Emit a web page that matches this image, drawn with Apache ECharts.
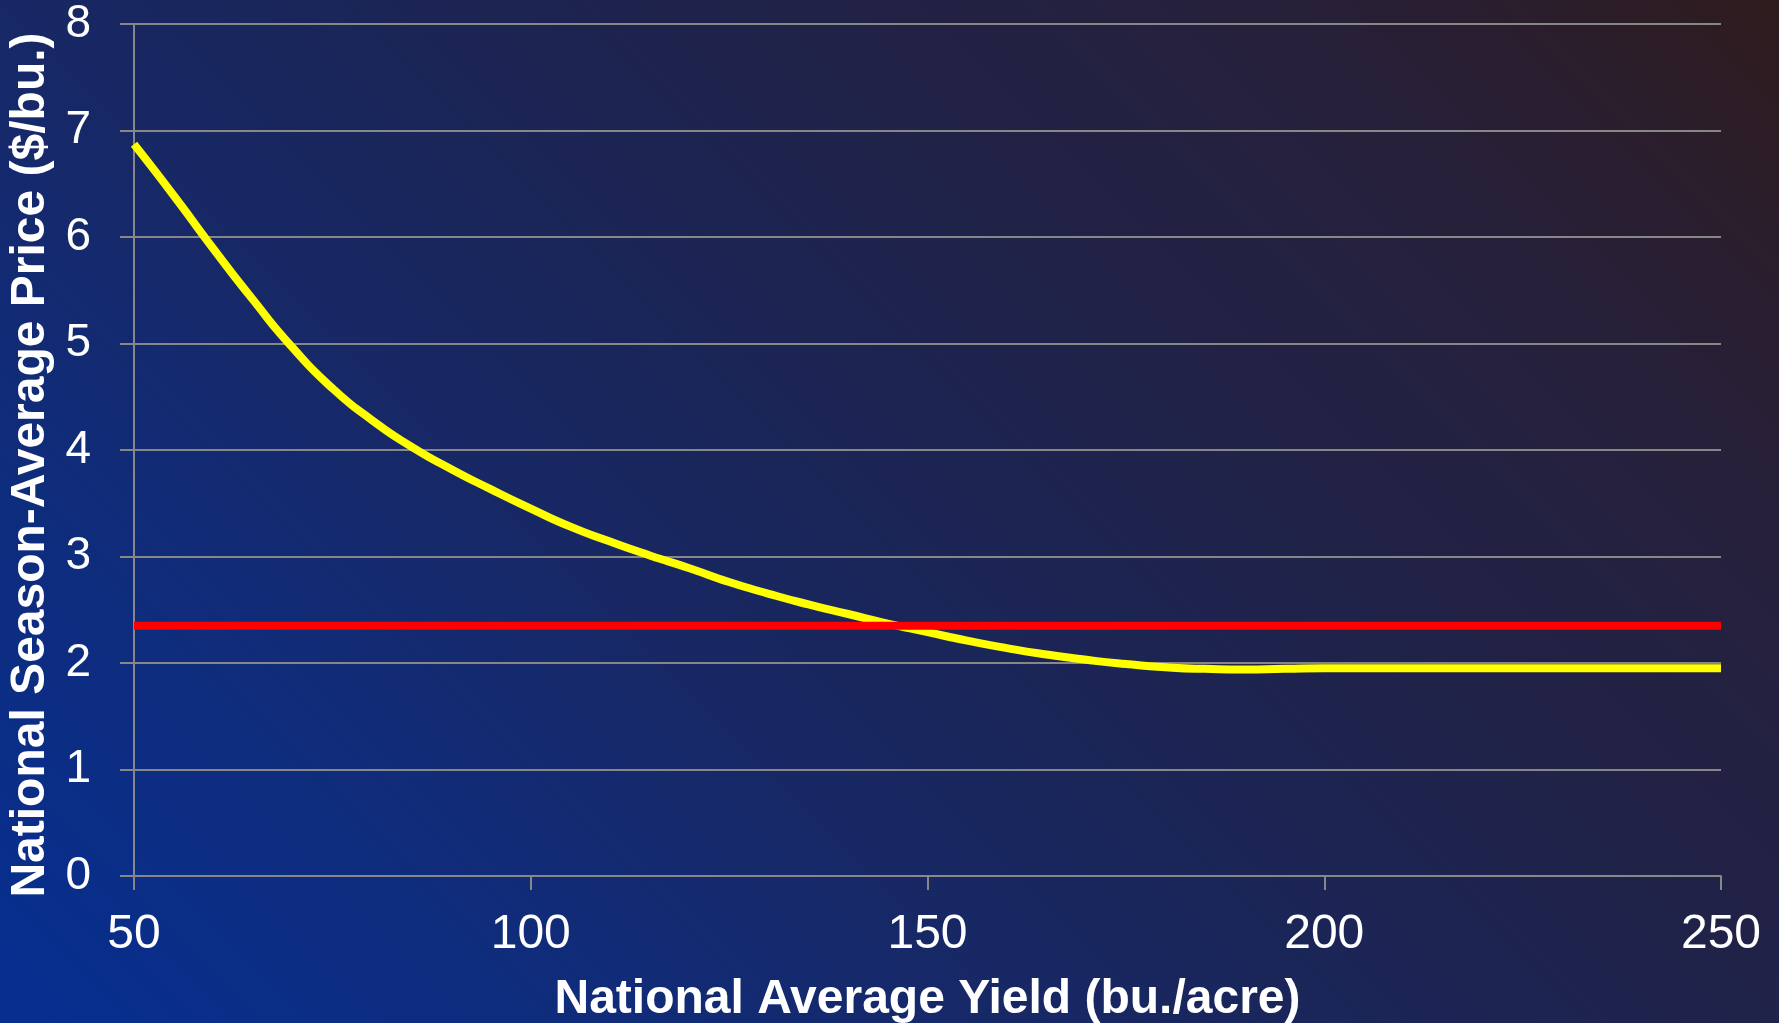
<!DOCTYPE html>
<html>
<head>
<meta charset="utf-8">
<title>National Season-Average Price vs. Yield</title>
<script src="https://cdn.jsdelivr.net/npm/echarts@6/dist/echarts.min.js"></script>
<style>
  html, body { margin: 0; padding: 0; width: 100%; height: 100%; overflow: hidden; }
  #chart { width: 1779px; height: 1023px; }
</style>
</head>
<body>
<div id="chart"></div>
<script>
// Yield (bu./acre) sampled along the price curve
const yieldValues = [50, 55, 60, 65, 70, 75, 80, 85, 90, 95, 100, 105, 110, 115, 120, 125, 130, 135, 140, 145,
  150, 155, 160, 165, 170, 175, 180, 185, 190, 195, 200, 210, 220, 230, 240, 250];
// National season-average price ($/bu.) at each yield
const priceValues = [6.87, 6.39, 5.89, 5.41, 4.96, 4.58, 4.28, 4.03, 3.82, 3.63, 3.45, 3.28, 3.14, 3.01, 2.89, 2.76, 2.65, 2.55, 2.46, 2.37,
  2.29, 2.21, 2.14, 2.08, 2.03, 1.99, 1.96, 1.945, 1.94, 1.945, 1.95, 1.95, 1.95, 1.95, 1.95, 1.95];
// Horizontal reference price ($/bu.) across the yield range
const refYield = [50, 250];
const refPrice = [2.35, 2.35];

const xTicks = { min: 50, max: 250, interval: 50 };
const yTicks = { min: 0, max: 8, interval: 1 };

const curve = yieldValues.map((x, i) => [x, priceValues[i]]);
const refLine = refYield.map((x, i) => [x, refPrice[i]]);

const gray = '#878787';
const font = '"Liberation Sans", Arial, sans-serif';

const chart = echarts.init(document.getElementById('chart'), null, { renderer: 'canvas' });
chart.setOption({
  // 45-degree sweep from bright blue (bottom-left) to dark brown (top-right)
  backgroundColor: {
    type: 'linear', x: 0, y: 1, x2: 0.7875, y2: -0.3695,
    colorStops: [
      { offset: 0, color: '#062f91' },
      { offset: 0.2, color: '#0f2c7c' },
      { offset: 0.36, color: '#172866' },
      { offset: 0.5, color: '#1b2556' },
      { offset: 0.64, color: '#202248' },
      { offset: 0.82, color: '#27203a' },
      { offset: 1, color: '#2e1b1d' }
    ]
  },
  animation: false,
  grid: { left: 134, right: 58, top: 24, bottom: 147, containLabel: false, outerBoundsMode: 'none' },
  xAxis: {
    type: 'value',
    min: xTicks.min, max: xTicks.max, interval: xTicks.interval,
    name: 'National Average Yield (bu./acre)',
    nameLocation: 'middle',
    nameGap: 100,
    nameTextStyle: { color: '#ffffff', fontFamily: font, fontWeight: 'bold', fontSize: 48 },
    axisLine: { show: true, lineStyle: { color: gray, width: 2 } },
    axisTick: { show: true, inside: false, length: 14, lineStyle: { color: gray, width: 2 } },
    axisLabel: { color: '#ffffff', fontFamily: font, fontSize: 48, margin: 35 },
    splitLine: { show: false }
  },
  yAxis: {
    type: 'value',
    min: yTicks.min, max: yTicks.max, interval: yTicks.interval,
    name: 'National Season-Average Price ($/bu.)',
    nameLocation: 'middle',
    nameGap: 76,
    nameTextStyle: { color: '#ffffff', fontFamily: font, fontWeight: 'bold', fontSize: 48, padding: [0, 30, 0, 0] },
    axisLine: { show: true, lineStyle: { color: gray, width: 2 } },
    axisTick: { show: true, inside: false, length: 14, lineStyle: { color: gray, width: 2 } },
    axisLabel: { color: '#ffffff', fontFamily: font, fontSize: 46, margin: 43 },
    splitLine: { show: true, lineStyle: { color: gray, width: 2 } }
  },
  series: [
    {
      name: 'Price',
      type: 'line',
      data: curve,
      smooth: 0.6,
      showSymbol: false,
      lineStyle: { color: '#ffff00', width: 8 },
      z: 3
    },
    {
      name: 'Reference',
      type: 'line',
      data: refLine,
      showSymbol: false,
      lineStyle: { color: '#ff0000', width: 8 },
      z: 4
    }
  ]
});
</script>
</body>
</html>
